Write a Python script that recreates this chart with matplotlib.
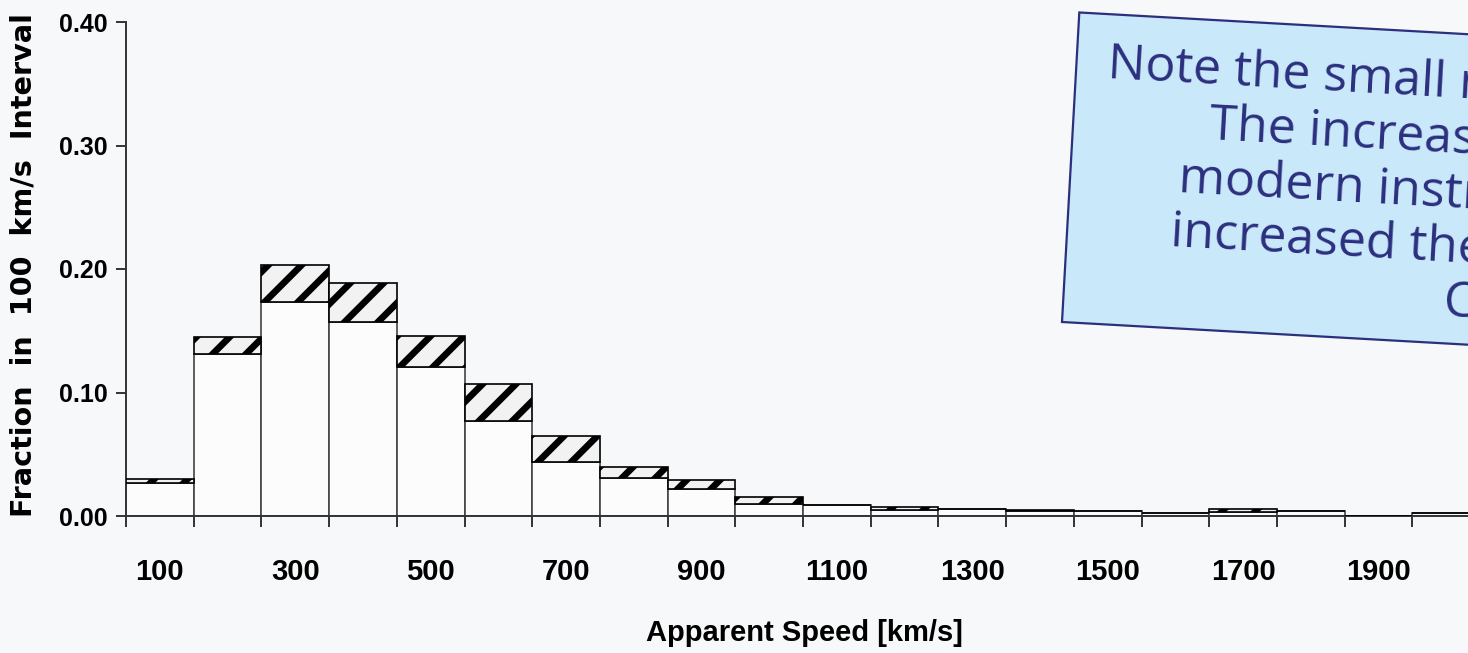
import numpy as np
import matplotlib
matplotlib.use("Agg")
from matplotlib import pyplot as plt
from matplotlib.patches import Rectangle

# speed bins (100 km/s wide), labelled by their upper value
speeds = [100, 200, 300, 400, 500, 600, 700, 800, 900, 1000,
          1100, 1200, 1300, 1400, 1500, 1600, 1700, 1800, 1900, 2000]
# fraction of events in each bin: lower (open) part and full height incl. hatched part
lower = [0.027, 0.131, 0.173, 0.157, 0.121, 0.077, 0.044, 0.031, 0.022, 0.010,
         0.0087, 0.0048, 0.0054, 0.0040, 0.0040, 0.0022, 0.0032, 0.0040, 0.0, 0.0022]
total = [0.030, 0.145, 0.203, 0.189, 0.146, 0.107, 0.065, 0.040, 0.029, 0.015,
         0.0087, 0.0075, 0.0054, 0.0049, 0.0040, 0.0022, 0.0054, 0.0040, 0.0, 0.0022]

note = ("Note the small number of fast CMEs\n"
        "The increased sensitivity of\n"
        "modern instruments has also\n"
        "increased the number of slow\n"
        "CMEs.")

bg = "#f7f8fa"
navy = "#2b2f7e"
plt.rcParams["hatch.linewidth"] = 2.4

W, H, DPI = 1468, 653, 200
fig = plt.figure(figsize=(W / DPI, H / DPI), dpi=DPI, facecolor=bg)
ax = fig.add_axes([126 / W, 137 / H, 22 * 67.7 / W, 494 / H])
ax.set_facecolor(bg)

pos = np.arange(1, len(speeds) + 1)
low = np.array(lower)
tot = np.array(total)

ax.bar(pos, low, width=1.0, color="#fcfcfd", edgecolor="#444444", linewidth=0.6, zorder=2)
ax.bar(pos, tot - low, bottom=low, width=1.0, color="#f2f2f2", edgecolor="black",
       linewidth=0.6, hatch="//", zorder=3)

ax.set_xlim(0.5, 22.5)
ax.set_ylim(0, 0.40)

for s in ["top", "right"]:
    ax.spines[s].set_visible(False)
for s in ["left", "bottom"]:
    ax.spines[s].set_color("#333333")
    ax.spines[s].set_linewidth(0.7)

# bin edges carry the tick marks, labels sit at every other bin centre
ax.set_xticks(np.arange(0.5, 22.6, 1.0))
ax.set_xticklabels([])
ax.tick_params(axis="x", which="major", length=4, width=0.7, color="#333333")
ax.set_xticks(pos[::2], minor=True)
ax.set_xticklabels([str(s) for s in speeds[::2]], minor=True,
                   family="Liberation Sans", fontweight="bold", fontsize=10.5)
ax.tick_params(axis="x", which="minor", length=0, pad=15)

ax.set_yticks([0.0, 0.1, 0.2, 0.3, 0.4])
ax.set_yticklabels(["0.00", "0.10", "0.20", "0.30", "0.40"],
                   family="Liberation Sans", fontweight="bold", fontsize=9)
ax.tick_params(axis="y", length=3.6, width=0.7, color="#333333", pad=3)

fig.text(804 / W, 1 - 633 / H, "Apparent Speed [km/s]", ha="center", va="center",
         family="Liberation Sans", fontweight="bold", fontsize=10.5)
fig.text(24 / W, 1 - 265 / H, "Fraction  in  100  km/s  Interval", rotation=90,
         ha="center", va="center", family="DejaVu Sans", fontweight="bold", fontsize=10.3)

# tilted note card in the upper right corner
card = Rectangle((1062 / DPI, (H - 322) / DPI), 3.2, 310 / DPI, angle=-3.2,
                 rotation_point="xy", transform=fig.dpi_scale_trans,
                 facecolor="#c9e8f9", edgecolor=navy, linewidth=0.8, zorder=5)
fig.add_artist(card)
fig.text(1520 / W, 1 - 198 / H, note, rotation=-3.2, rotation_mode="anchor",
         ha="center", va="center", multialignment="center", family="Open Sans",
         fontsize=18, color=navy, linespacing=1.13, zorder=6)

fig.savefig("out.png", dpi=DPI, facecolor=bg)
